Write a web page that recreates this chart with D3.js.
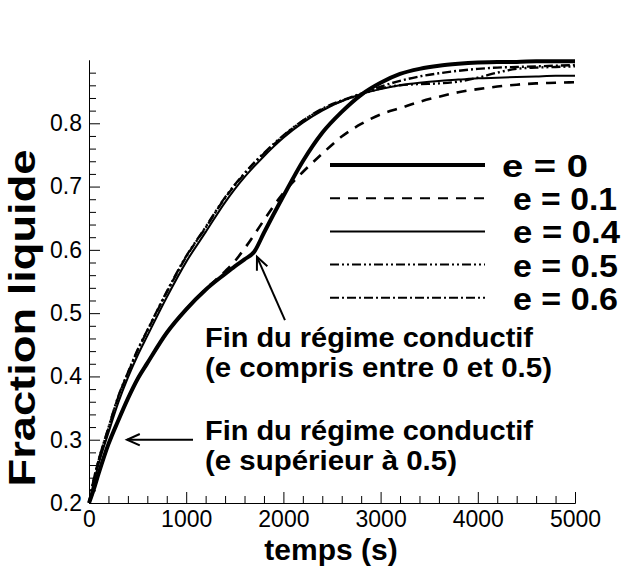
<!DOCTYPE html>
<html>
<head>
<meta charset="utf-8">
<script src="https://cdn.jsdelivr.net/npm/d3@7"></script>
<style>
  body { margin: 0; background: #fff; }
  text { font-family: "Liberation Sans", Arial, Helvetica, sans-serif; }
</style>
</head>
<body>
<div id="chart"></div>
<script>
// temps (s) shared by every curve
const timeS = [0, 50, 100, 200, 300, 400, 500, 600, 800, 1000, 1200, 1400, 1500, 1600, 1700, 1800,
  2000, 2200, 2400, 2600, 2800, 3000, 3200, 3400, 3600, 3800, 4000, 4200, 4400, 4600, 4800, 5000];

// fraction liquide for each value of e
const fracE0 = [0.200, 0.222, 0.247, 0.293, 0.330, 0.365, 0.396, 0.421, 0.469, 0.506, 0.537, 0.562, 0.574, 0.585, 0.597, 0.627,
  0.685, 0.740, 0.785, 0.818, 0.845, 0.864, 0.878, 0.886, 0.891, 0.894, 0.896, 0.897, 0.897, 0.898, 0.898, 0.898];
const fracE01 = [0.200, 0.222, 0.247, 0.293, 0.330, 0.365, 0.396, 0.421, 0.469, 0.506, 0.538, 0.566, 0.582, 0.602, 0.624, 0.647,
  0.690, 0.723, 0.752, 0.779, 0.799, 0.814, 0.824, 0.834, 0.842, 0.849, 0.854, 0.858, 0.861, 0.863, 0.864, 0.865];
const fracE04 = [0.200, 0.233, 0.262, 0.311, 0.358, 0.398, 0.433, 0.464, 0.525, 0.581, 0.628, 0.675, 0.696, 0.715, 0.732, 0.748,
  0.777, 0.801, 0.820, 0.835, 0.846, 0.854, 0.860, 0.864, 0.867, 0.869, 0.871, 0.872, 0.873, 0.874, 0.875, 0.875];
const fracE05 = [0.200, 0.238, 0.268, 0.319, 0.368, 0.406, 0.442, 0.473, 0.534, 0.590, 0.636, 0.683, 0.703, 0.721, 0.738, 0.753,
  0.781, 0.804, 0.822, 0.835, 0.846, 0.855, 0.860, 0.862, 0.863, 0.866, 0.872, 0.880, 0.886, 0.888, 0.889, 0.890];
const fracE06 = [0.200, 0.238, 0.268, 0.318, 0.367, 0.405, 0.441, 0.472, 0.533, 0.589, 0.635, 0.682, 0.702, 0.720, 0.737, 0.752,
  0.780, 0.804, 0.823, 0.836, 0.847, 0.858, 0.867, 0.874, 0.879, 0.883, 0.886, 0.888, 0.889, 0.890, 0.891, 0.892];

const seriesLabels = ["e = 0", "e = 0.1", "e = 0.4", "e = 0.5", "e = 0.6"];
const seriesValues = [fracE0, fracE01, fracE04, fracE05, fracE06];

const xTicks = [0, 1000, 2000, 3000, 4000, 5000];
const yTicks = [0.2, 0.3, 0.4, 0.5, 0.6, 0.7, 0.8];

// line styles per series
const styles = [
  { width: 4, legendWidth: 4, dash: null, labelLength: 86 },
  { width: 2.6, legendWidth: 2, dash: "10,8", labelLength: 104 },
  { width: 2, legendWidth: 2, dash: null, labelLength: 107 },
  { width: 2.4, legendWidth: 2, dash: "9,3,2,3,2,3", labelLength: 105 },
  { width: 2.4, legendWidth: 2, dash: "9,3,2,3", labelLength: 105 }
];

const width = 624, height = 569;
const svg = d3.select("#chart").append("svg")
  .attr("width", width)
  .attr("height", height);

const x = d3.scaleLinear().domain([0, 5000]).range([89, 575]);
const y = d3.scaleLinear().domain([0.2, 0.9]).range([503, 60]);

// y axis, ticks pointing inside
svg.append("g")
  .attr("transform", `translate(${x(0)},0)`)
  .call(d3.axisLeft(y).tickValues(d3.range(0.22, 0.899, 0.02).filter(v => Math.abs(v * 10 - Math.round(v * 10)) > 0.01))
    .tickSizeInner(-7).tickSizeOuter(0).tickFormat(""));
const yAxis = svg.append("g")
  .attr("transform", `translate(${x(0)},0)`)
  .call(d3.axisLeft(y).tickValues(yTicks).tickSizeInner(-11).tickSizeOuter(0).tickPadding(7).tickFormat(d3.format(".1f")));
yAxis.selectAll("text").attr("font-size", 23).attr("font-family", null).attr("fill", "#000");

// x axis
svg.append("g")
  .attr("transform", `translate(0,${y(0.2)})`)
  .call(d3.axisBottom(x).tickValues(d3.range(200, 5000, 200).filter(v => v % 1000 !== 0))
    .tickSizeInner(-7).tickSizeOuter(0).tickFormat(""));
const xAxis = svg.append("g")
  .attr("transform", `translate(0,${y(0.2)})`)
  .call(d3.axisBottom(x).tickValues(xTicks).tickSizeInner(-11).tickSizeOuter(0).tickPadding(8).tickFormat(d3.format("d")));
xAxis.selectAll("text").attr("font-size", 23).attr("font-family", null).attr("fill", "#000");

svg.selectAll(".domain, .tick line").attr("stroke", "#000");

// curves
const line = d3.line()
  .x(d => x(d[0]))
  .y(d => y(d[1]))
  .curve(d3.curveMonotoneX);

seriesValues.forEach((vals, i) => {
  svg.append("path")
    .datum(timeS.map((t, j) => [t, vals[j]]))
    .attr("d", line)
    .attr("fill", "none")
    .attr("stroke", "#000")
    .attr("stroke-width", styles[i].width)
    .attr("stroke-dasharray", styles[i].dash)
    .attr("stroke-linejoin", "round");
});

// legend
const legend = svg.append("g");
seriesLabels.forEach((lab, i) => {
  const ly = 165 + i * 33.2;
  legend.append("line")
    .attr("x1", 330).attr("x2", 485)
    .attr("y1", ly).attr("y2", ly)
    .attr("stroke", "#000")
    .attr("stroke-width", styles[i].legendWidth)
    .attr("stroke-dasharray", styles[i].dash);
  legend.append("text")
    .attr("x", i === 0 ? 502 : 513)
    .attr("y", ly + 12)
    .attr("font-size", 31)
    .attr("font-weight", "bold")
    .attr("textLength", styles[i].labelLength)
    .attr("lengthAdjust", "spacingAndGlyphs")
    .text(lab);
});

// arrows
function arrow(t0, v0, t1, v1) {
  const x0 = x(t0), y0 = y(v0), x1 = x(t1), y1 = y(v1);
  const a = Math.atan2(y1 - y0, x1 - x0);
  const head = 14, spread = 0.42;
  svg.append("line")
    .attr("x1", x0).attr("y1", y0).attr("x2", x1).attr("y2", y1)
    .attr("stroke", "#000").attr("stroke-width", 2);
  svg.append("path")
    .attr("d", `M${x1 - head * Math.cos(a - spread)},${y1 - head * Math.sin(a - spread)}L${x1},${y1}L${x1 - head * Math.cos(a + spread)},${y1 - head * Math.sin(a + spread)}`)
    .attr("fill", "none").attr("stroke", "#000").attr("stroke-width", 2);
}
arrow(2016, 0.489, 1728, 0.589);
arrow(1070, 0.3, 391, 0.3);

// annotations (line widths)
const notes = [
  { t: 1193, v: 0.447, lines: ["Fin du régime conductif", "(e compris entre 0 et 0.5)"], lens: [328, 347] },
  { t: 1193, v: 0.3, lines: ["Fin du régime conductif", "(e supérieur à 0.5)"], lens: [328, 252] }
];
notes.forEach(n => {
  n.lines.forEach((l, k) => {
    svg.append("text")
      .attr("x", x(n.t))
      .attr("y", y(n.v) + k * 30)
      .attr("font-size", 27)
      .attr("font-weight", "bold")
      .attr("textLength", n.lens[k])
      .attr("lengthAdjust", "spacingAndGlyphs")
      .text(l);
  });
});

// axis titles
svg.append("text")
  .attr("x", 331)
  .attr("y", 560)
  .attr("text-anchor", "middle")
  .attr("font-size", 30)
  .attr("font-weight", "bold")
  .text("temps (s)");

svg.append("text")
  .attr("transform", "translate(35,318) rotate(-90)")
  .attr("text-anchor", "middle")
  .attr("font-size", 37)
  .attr("font-weight", "bold")
  .attr("textLength", 337)
  .attr("lengthAdjust", "spacingAndGlyphs")
  .text("Fraction liquide");
</script>
</body>
</html>
